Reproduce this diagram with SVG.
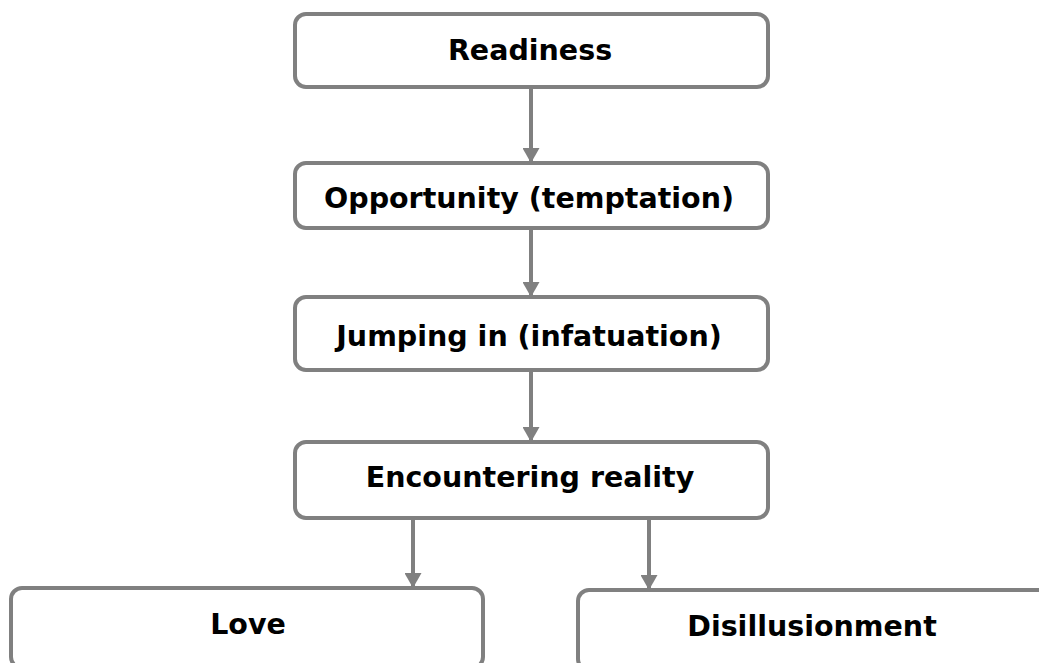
<svg xmlns="http://www.w3.org/2000/svg" width="1039" height="663" viewBox="0 0 1039 663">
  <style>
    .box { fill: #ffffff; stroke: #808080; stroke-width: 4; }
    .label { font-family: "DejaVu Sans", Verdana, sans-serif; font-weight: bold; font-size: 28.5px; fill: #000000; text-anchor: middle; }
    .link { stroke: #808080; stroke-width: 4; fill: none; marker-end: url(#arrow); }
  </style>
  <defs>
    <!-- filled triangular arrowhead, tip at the end of the line -->
    <marker id="arrow" markerUnits="userSpaceOnUse" viewBox="0 0 15 17" refX="14" refY="8.5" markerWidth="15" markerHeight="17" orient="auto">
      <path d="M0,0 L15,8.5 L0,17 Z" fill="#808080"/>
    </marker>
  </defs>
  <rect width="1039" height="663" fill="#ffffff"/>

  <g id="connectors">
    <line class="link" x1="531" y1="89" x2="531" y2="162"/>
    <line class="link" x1="531" y1="230" x2="531" y2="296"/>
    <line class="link" x1="531" y1="372" x2="531" y2="441"/>
    <line class="link" x1="413" y1="520" x2="413" y2="587"/>
    <line class="link" x1="649" y1="520" x2="649" y2="589"/>
  </g>

  <g id="readiness">
    <rect class="box" x="295" y="14" width="473" height="73" rx="11"/>
    <text class="label" x="530" y="60">Readiness</text>
  </g>
  <g id="opportunity">
    <rect class="box" x="295" y="163" width="473" height="65" rx="11"/>
    <text class="label" x="529" y="208">Opportunity (temptation)</text>
  </g>
  <g id="jumping-in">
    <rect class="box" x="295" y="297" width="473" height="73" rx="11"/>
    <text class="label" x="529" y="346">Jumping in (infatuation)</text>
  </g>
  <g id="encountering-reality">
    <rect class="box" x="295" y="442" width="473" height="76" rx="11"/>
    <text class="label" x="530" y="487">Encountering reality</text>
  </g>
  <g id="love">
    <rect class="box" x="11" y="588" width="472" height="80" rx="11"/>
    <text class="label" x="248" y="634">Love</text>
  </g>
  <g id="disillusionment">
    <rect class="box" x="578" y="590" width="473" height="80" rx="11"/>
    <text class="label" x="812" y="636">Disillusionment</text>
  </g>
</svg>
